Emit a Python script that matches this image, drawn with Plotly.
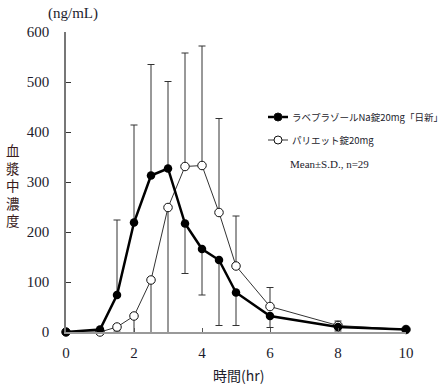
import plotly.graph_objects as go

time_hr = [0, 1, 1.5, 2, 2.5, 3, 3.5, 4, 4.5, 5, 6, 8, 10]
nisshin_mean = [0, 5, 74, 219, 313, 327, 217, 166, 144, 79, 32, 10, 5]
nisshin_sd = [0, 2, 150, 195, 222, 174, 100, 92, 131, 66, 23, 8, 4]
pariet_mean = [0, 0, 10, 32, 104, 249, 331, 333, 239, 132, 51, 13, 5]
pariet_sd = [0, 0, 8, 45, 180, 270, 227, 239, 188, 100, 38, 9, 4]

name_a = "ラベプラゾールNa錠20mg「日新」"
name_b = "パリエット錠20mg"
note = "Mean±S.D., n=29"
y_title = "血漿中濃度"
x_title = "時間(hr)"
unit = "(ng/mL)"
x_ticks = [0, 2, 4, 6, 8, 10]
y_ticks = [0, 100, 200, 300, 400, 500, 600]

# higher series shows upper SD, lower series shows lower SD
a_up = [s if a >= b else 0 for a, b, s in zip(nisshin_mean, pariet_mean, nisshin_sd)]
a_dn = [0 if a >= b else s for a, b, s in zip(nisshin_mean, pariet_mean, nisshin_sd)]
b_up = [s if b > a else 0 for a, b, s in zip(nisshin_mean, pariet_mean, pariet_sd)]
b_dn = [0 if b > a else s for a, b, s in zip(nisshin_mean, pariet_mean, pariet_sd)]

SERIF = "Liberation Serif, Noto Sans CJK JP, serif"
JP = "Noto Sans CJK JP, Liberation Serif, serif"
TXT = "#1c1c2c"

W, H = 445, 387
ML, MT, PW, PH = 66, 32, 340, 300


def px(xp):  # pixel -> paper x
    return (xp - ML) / PW


def py(yp):  # pixel -> paper y
    return (MT + PH - yp) / PH


fig = go.Figure()
for m, up, dn in [(pariet_mean, b_up, b_dn), (nisshin_mean, a_up, a_dn)]:
    fig.add_trace(go.Scatter(
        x=time_hr, y=m, mode="markers", marker=dict(opacity=0, size=1),
        showlegend=False, hoverinfo="skip", cliponaxis=True,
        error_y=dict(type="data", symmetric=False, array=up, arrayminus=dn,
                     color="#333333", thickness=1, width=3.5)))

fig.add_trace(go.Scatter(
    x=time_hr, y=pariet_mean, mode="lines+markers", name=name_b,
    line=dict(color="#333333", width=1),
    marker=dict(symbol="circle", size=8.5, color="white",
                line=dict(color="#111111", width=1)),
    cliponaxis=False, showlegend=False))
fig.add_trace(go.Scatter(
    x=time_hr, y=nisshin_mean, mode="lines+markers", name=name_a,
    line=dict(color="black", width=2.5),
    marker=dict(symbol="circle", size=8.5, color="black"),
    cliponaxis=False, showlegend=False))

# manual legend
shapes = []
leg = [(117, "black", 2.5, "black"), (140, "#333333", 1, "white")]
for yy, lc, lw, fc in leg:
    shapes.append(dict(type="line", xref="paper", yref="paper",
                       x0=px(268), x1=px(288), y0=py(yy), y1=py(yy),
                       line=dict(color=lc, width=lw)))
    shapes.append(dict(type="circle", xref="paper", yref="paper",
                       xsizemode="pixel", ysizemode="pixel",
                       xanchor=px(278), yanchor=py(yy),
                       x0=-4, x1=4, y0=-4, y1=4,
                       fillcolor=fc, line=dict(color="#111111", width=1)))

annotations = [
    dict(text=unit, xref="paper", yref="paper", x=px(73), y=py(14),
         xanchor="center", yanchor="middle", showarrow=False,
         font=dict(family=SERIF, size=15, color=TXT)),
    dict(text=x_title, xref="paper", yref="paper", x=px(238), y=py(375),
         xanchor="center", yanchor="middle", showarrow=False,
         font=dict(family=JP, size=14, color=TXT)),
    dict(text=name_a, xref="paper", yref="paper", x=px(290), y=py(117),
         xanchor="left", yanchor="middle", showarrow=False,
         font=dict(family=JP, size=9.5, color=TXT)),
    dict(text=name_b, xref="paper", yref="paper", x=px(290), y=py(140),
         xanchor="left", yanchor="middle", showarrow=False,
         font=dict(family=JP, size=9.5, color=TXT)),
    dict(text=note, xref="paper", yref="paper", x=px(288), y=py(164),
         xanchor="left", yanchor="middle", showarrow=False,
         font=dict(family=SERIF, size=11, color=TXT)),
    dict(text="<br>".join(y_title), xref="paper", yref="paper",
         x=px(13), y=py(185), xanchor="center", yanchor="middle",
         showarrow=False, textangle=0,
         font=dict(family=JP, size=13.5, color="#3a1c1c")),
]

fig.update_layout(
    width=W, height=H,
    margin=dict(l=ML, r=W - ML - PW, t=MT, b=H - MT - PH),
    plot_bgcolor="white", paper_bgcolor="white",
    font=dict(family=SERIF, size=15, color=TXT),
    showlegend=False,
    xaxis=dict(range=[0, 10], tickvals=x_ticks, ticks="inside", ticklen=4,
               tickcolor="#555", showgrid=False, zeroline=False,
               showline=True, linecolor="#999999", linewidth=2,
               ticklabelstandoff=6, tickfont=dict(family=SERIF, size=15, color=TXT)),
    yaxis=dict(range=[0, 600], tickvals=y_ticks, ticks="inside", ticklen=5,
               tickcolor="#333", showgrid=False, zeroline=False,
               showline=True, linecolor="#777777", linewidth=1.5,
               ticklabelstandoff=12, tickfont=dict(family=SERIF, size=15, color=TXT)),
    shapes=shapes,
    annotations=annotations,
)

fig.write_html("out.html", config={"displayModeBar": False},
               post_script="document.body.style.margin='0';document.body.style.padding='0';")
